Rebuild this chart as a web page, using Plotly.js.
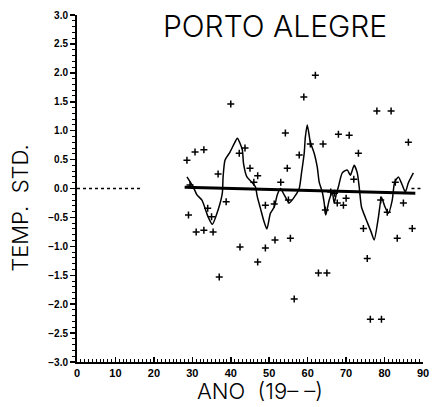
<!DOCTYPE html>
<html>
<head>
<meta charset="utf-8">
<script src="https://cdn.plot.ly/plotly-3.0.1.min.js"></script>
<style>html,body{margin:0;padding:0;background:#fff;}#chart{width:433px;height:407px;}</style>
</head>
<body>
<div id="chart"></div>
<script>
// Annual standardized temperature anomalies (year offset within 19xx)
const obsYear = [28.6,29.0,29.4,30.7,31.0,33.0,33.0,34.0,35.0,35.4,36.7,37.0,38.8,40.0,42.2,42.4,43.7,45.0,46.0,47.0,47.0,49.0,49.0,51.3,51.5,53.0,54.2,54.7,55.0,55.5,56.5,57.8,59.0,60.7,62.0,62.8,64.0,64.6,65.0,66.0,67.0,67.7,68.0,69.3,70.0,70.8,72.0,73.2,74.5,75.5,76.3,78.0,79.0,79.2,80.7,81.7,82.8,83.3,84.9,86.2,87.2];
const obsValue = [0.49,-0.46,0.06,0.63,-0.75,0.67,-0.72,-0.34,-0.49,-0.75,0.25,-1.53,-0.23,1.46,0.61,-1.01,0.70,0.35,0.11,0.22,-1.27,-1.03,-0.29,-0.27,-0.89,0.11,0.96,0.35,-0.20,-0.86,-1.91,0.58,1.58,0.77,1.96,-1.46,0.77,-0.37,-1.46,-0.06,-0.08,-0.25,0.94,-0.29,-0.17,0.92,0.16,0.61,-0.69,-1.21,-2.26,1.34,-0.20,-2.26,-0.41,1.34,0.11,-0.86,-0.25,0.80,-0.69];

// Smoothed (filtered) curve
const smoothYear = [28.6,30.2,31.2,32.5,33.3,34.1,35.2,36.7,37.8,38.0,38.5,39.8,41.0,41.7,43.0,43.3,44.2,45.6,46.4,46.9,47.7,48.5,49.4,50.3,51.3,52.1,52.9,53.9,55.2,56.5,57.8,58.4,59.1,59.4,59.9,60.7,61.7,62.5,63.0,63.8,64.3,64.7,65.6,66.4,66.9,67.5,68.0,69.0,70.3,71.1,72.1,72.9,73.4,74.0,75.0,76.5,77.3,78.4,79.2,80.0,81.0,82.0,82.6,83.6,84.6,85.4,86.2,87.5];
const smoothValue = [0.20,0.03,-0.11,-0.20,-0.34,-0.49,-0.62,-0.37,-0.08,0.20,0.49,0.63,0.79,0.87,0.67,0.44,0.20,0.10,0.03,-0.14,-0.34,-0.54,-0.70,-0.43,-0.32,-0.11,0.00,-0.11,-0.25,-0.15,0.00,0.27,0.61,0.89,1.10,0.80,0.61,0.37,0.11,-0.06,-0.25,-0.46,-0.20,-0.06,-0.25,-0.08,0.03,0.27,0.32,0.23,0.40,0.27,0.03,-0.32,-0.50,-0.75,-0.89,-0.50,-0.15,-0.30,-0.43,-0.20,0.10,0.20,0.06,-0.06,0.10,0.27];

// Linear trend
const trendYear = [28, 88];
const trendValue = [0.02, -0.08];

// Dotted zero reference segments
const zeroLeftYear = [0, 17];
const zeroRightYear = [87, 90];
const zeroValue = [0, 0];

const xTickVals = [0,10,20,30,40,50,60,70,80,90];
const yTickVals = [3.0,2.5,2.0,1.5,1.0,0.5,0.0,-0.5,-1.0,-1.5,-2.0,-2.5,-3.0];
const yTickText = ["3.0","2.5","2.0","1.5","1.0","0.5","0.0","\u22120.5","\u22121.0","\u22121.5","\u22122.0","\u22122.5","\u22123.0"];

const traces = [
  {x: zeroLeftYear, y: zeroValue, mode: 'lines', line: {color: '#000', width: 1.5, dash: 'dot'}, hoverinfo: 'skip'},
  {x: zeroRightYear, y: zeroValue, mode: 'lines', line: {color: '#000', width: 1.5, dash: 'dot'}, hoverinfo: 'skip'},
  {x: trendYear, y: trendValue, mode: 'lines', line: {color: '#000', width: 3}},
  {x: smoothYear, y: smoothValue, mode: 'lines', line: {color: '#000', width: 1.5, shape: 'spline', smoothing: 0.6}},
  {x: obsYear, y: obsValue, mode: 'markers', marker: {symbol: 'cross-thin', size: 5, color: '#000', line: {color: '#000', width: 1.5}}}
];

const tickFont = {family: 'Liberation Sans Narrow, Liberation Sans, Arial', size: 11, color: '#000', weight: 700};
const thinFont = {family: 'Inter, Lato, Liberation Sans', color: '#000', weight: 300};

const layout = {
  width: 433, height: 407,
  margin: {l: 77, r: 10, t: 15, b: 45},
  paper_bgcolor: '#fff', plot_bgcolor: '#fff',
  showlegend: false,
  xaxis: {
    range: [0, 90], tickvals: xTickVals, ticktext: xTickVals.map(String),
    showgrid: false, zeroline: false, showline: true, linecolor: '#000', linewidth: 2,
    ticks: 'inside', ticklen: 5, tickwidth: 1.5, tickcolor: '#000',
    minor: {dtick: 1, ticks: 'inside', ticklen: 3, tickwidth: 1, tickcolor: '#000', showgrid: false},
    tickfont: tickFont
  },
  yaxis: {
    range: [-3, 3], tickvals: yTickVals, ticktext: yTickText,
    showgrid: false, zeroline: false, showline: true, linecolor: '#000', linewidth: 2,
    ticks: 'outside', ticklen: 5, tickwidth: 1.5, tickcolor: '#000',
    minor: {dtick: 0.1, ticks: 'outside', ticklen: 3, tickwidth: 1, tickcolor: '#000', showgrid: false},
    tickfont: {family: tickFont.family, size: 10, color: '#000', weight: 700}
  },
  annotations: [
    {text: 'PORTO ALEGRE', xref: 'paper', yref: 'paper', x: 0.572, y: 0.968, xanchor: 'center', yanchor: 'middle', showarrow: false,
     font: Object.assign({size: 30}, thinFont)},
    {text: 'TEMP.  STD.', xref: 'paper', yref: 'paper', x: -0.165, y: 0.444, xanchor: 'center', yanchor: 'middle', textangle: -90, showarrow: false,
     font: Object.assign({size: 22}, thinFont)},
    {text: 'ANO  (19\u2013 \u2013)', xref: 'paper', yref: 'paper', x: 0.529, y: -0.084, xanchor: 'center', yanchor: 'middle', showarrow: false,
     font: Object.assign({size: 22}, thinFont)}
  ]
};

Plotly.newPlot('chart', traces, layout, {displayModeBar: false, staticPlot: true});
</script>
</body>
</html>
